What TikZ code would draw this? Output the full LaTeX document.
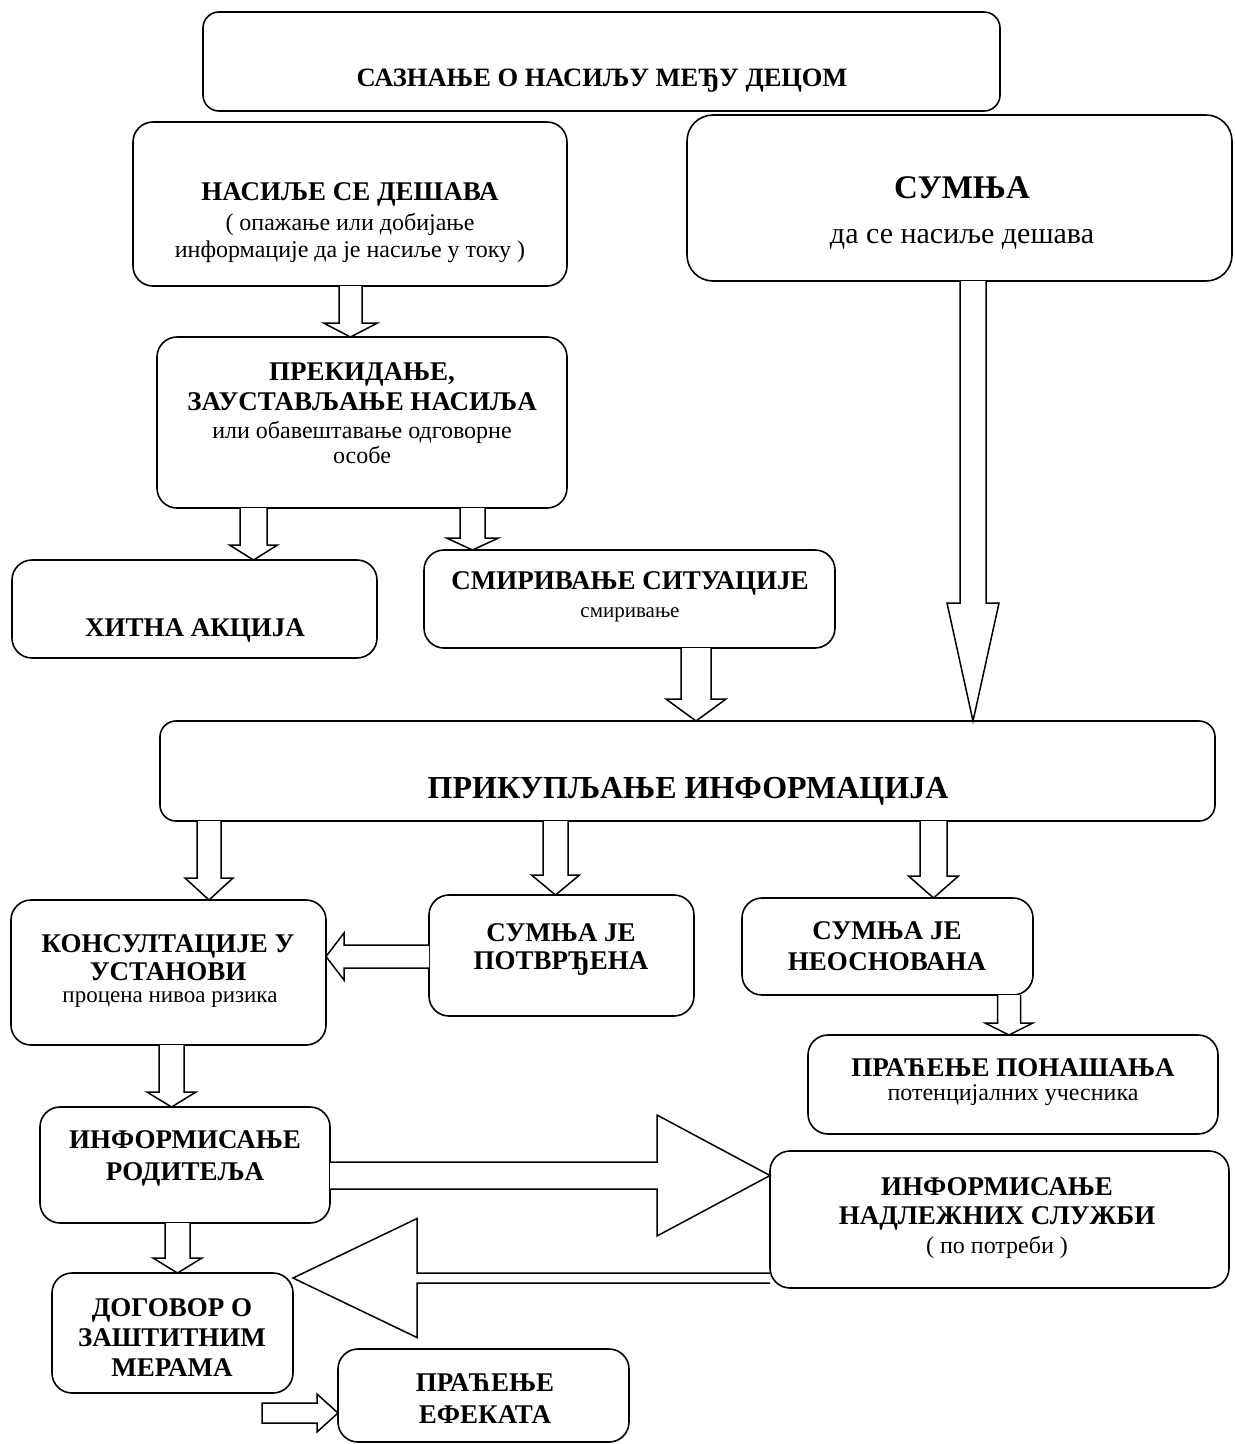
\documentclass[tikz,border=0pt]{standalone}
\usepackage{fontspec}
\setmainfont{Liberation Serif}
\usetikzlibrary{calc}
\tikzset{
  box/.style={draw, line width=1.6pt, rounded corners=20pt, inner sep=0pt, outer sep=0pt},
  blk/.style={draw, line width=1.5pt, line join=miter, fill=white},
  bt/.style={anchor=base, inner sep=0pt, font=\fontsize{27}{30}\selectfont\bfseries},
  rt/.style={anchor=base, inner sep=0pt, font=\fontsize{24}{28}\selectfont},
}
% vertical block arrow: src, dst, x centre, shaft half, head half, head length
\newcommand\darr[6]{%
  \pgfmathsetmacro\xa{#3-#4}\pgfmathsetmacro\xb{#3+#4}%
  \pgfmathsetmacro\xc{#3-#5}\pgfmathsetmacro\xd{#3+#5}%
  \draw[blk] (\xa,0 |- #1.south) -- ($(\xa,0 |- #2.north)+(0,-#6)$)
    -- ($(\xc,0 |- #2.north)+(0,-#6)$) -- (#3,0 |- #2.north)
    -- ($(\xd,0 |- #2.north)+(0,-#6)$) -- ($(\xb,0 |- #2.north)+(0,-#6)$)
    -- (\xb,0 |- #1.south);}
% leftward block arrow: src (its west side), dst (its east side), y centre, shaft half, head half, head length
\newcommand\larr[6]{%
  \pgfmathsetmacro\ya{#3-#4}\pgfmathsetmacro\yb{#3+#4}%
  \pgfmathsetmacro\yc{#3-#5}\pgfmathsetmacro\yd{#3+#5}%
  \draw[blk] (#1.west |- 0,\ya) -- ($(#2.east |- 0,\ya)+(#6,0)$)
    -- ($(#2.east |- 0,\yc)+(#6,0)$) -- (#2.east |- 0,#3)
    -- ($(#2.east |- 0,\yd)+(#6,0)$) -- ($(#2.east |- 0,\yb)+(#6,0)$)
    -- (#1.west |- 0,\yb);}
% rightward block arrow: src (its east side), dst (its west side)
\newcommand\rarr[6]{%
  \pgfmathsetmacro\ya{#3-#4}\pgfmathsetmacro\yb{#3+#4}%
  \pgfmathsetmacro\yc{#3-#5}\pgfmathsetmacro\yd{#3+#5}%
  \draw[blk] (#1.east |- 0,\ya) -- ($(#2.west |- 0,\ya)+(-#6,0)$)
    -- ($(#2.west |- 0,\yc)+(-#6,0)$) -- (#2.west |- 0,#3)
    -- ($(#2.west |- 0,\yd)+(-#6,0)$) -- ($(#2.west |- 0,\yb)+(-#6,0)$)
    -- (#1.east |- 0,\yb);}
\begin{document}
\begin{tikzpicture}[x=1pt,y=-1pt]
\fill[white] (0,0) rectangle (1235,1444);
\useasboundingbox (0,0) rectangle (1235,1444);

% boxes
\node[box, rounded corners=16pt, minimum width=797pt, minimum height=99pt] (top) at (601.5,61.5) {};
\node[box, minimum width=434pt, minimum height=164pt] (nas) at (350,204) {};
\node[box, rounded corners=26pt, minimum width=545pt, minimum height=166pt] (sum) at (959.5,198) {};
\node[box, minimum width=410pt, minimum height=171pt] (prek) at (362,422.5) {};
\node[box, minimum width=365pt, minimum height=98pt] (hit) at (194.5,609) {};
\node[box, minimum width=411pt, minimum height=98pt] (smir) at (629.5,599) {};
\node[box, rounded corners=16pt, minimum width=1055pt, minimum height=100pt] (prik) at (687.5,771) {};
\node[box, minimum width=315pt, minimum height=145pt] (kons) at (168.5,972.5) {};
\node[box, minimum width=265pt, minimum height=121pt] (potv) at (561.5,955.5) {};
\node[box, minimum width=291pt, minimum height=97pt] (neos) at (887.5,946.5) {};
\node[box, minimum width=410pt, minimum height=99pt] (prpon) at (1013,1084.5) {};
\node[box, minimum width=290pt, minimum height=116pt] (inrod) at (185,1165) {};
\node[box, minimum width=459pt, minimum height=137pt] (nadl) at (999.5,1219.5) {};
\node[box, minimum width=241pt, minimum height=120pt] (dog) at (172.5,1333) {};
\node[box, minimum width=291pt, minimum height=93pt] (efek) at (483.5,1395.5) {};

% texts
\node[bt, font=\fontsize{26.5}{30}\selectfont\bfseries] (topT) at (602,86) {САЗНАЊЕ О НАСИЉУ МЕЂУ ДЕЦОМ};
\node[bt] (nasT1) at (350,200) {НАСИЉЕ СЕ ДЕШАВА};
\node[rt] (nasT2) at (350,230) {( опажање или добијање};
\node[rt] (nasT3) at (350,257) {информације да је насиље у току )};
\node[bt, font=\fontsize{33}{36}\selectfont\bfseries] (sumT1) at (962,198) {СУМЊА};
\node[rt, font=\fontsize{30}{34}\selectfont] (sumT2) at (962,243) {да се насиље дешава};
\node[bt] (prekT1) at (362,380) {ПРЕКИДАЊЕ,};
\node[bt] (prekT2) at (362,410) {ЗАУСТАВЉАЊЕ НАСИЉА};
\node[rt] (prekT3) at (362,438) {или обавештавање одговорне};
\node[rt] (prekT4) at (362,463) {особе};
\node[bt] (hitT) at (195,636) {ХИТНА АКЦИЈА};
\node[bt] (smirT1) at (630,589) {СМИРИВАЊЕ СИТУАЦИЈЕ};
\node[rt, font=\fontsize{21}{24}\selectfont] (smirT2) at (630,617) {смиривање};
\node[bt, font=\fontsize{32}{36}\selectfont\bfseries] (prikT) at (688,798) {ПРИКУПЉАЊЕ ИНФОРМАЦИЈА};
\node[bt] (konsT1) at (168,952) {КОНСУЛТАЦИЈЕ У};
\node[bt] (konsT2) at (168,980) {УСТАНОВИ};
\node[rt, font=\fontsize{23}{26}\selectfont] (konsT3) at (170,1002) {процена нивоа ризика};
\node[bt] (potvT1) at (561,941) {СУМЊА ЈЕ};
\node[bt] (potvT2) at (561,969) {ПОТВРЂЕНА};
\node[bt] (neosT1) at (887,939) {СУМЊА ЈЕ};
\node[bt] (neosT2) at (887,970) {НЕОСНОВАНА};
\node[bt] (prponT1) at (1013,1076) {ПРАЋЕЊЕ ПОНАШАЊА};
\node[rt, font=\fontsize{24}{27}\selectfont] (prponT2) at (1013,1100) {потенцијалних учесника};
\node[bt] (inrodT1) at (185,1148) {ИНФОРМИСАЊЕ};
\node[bt] (inrodT2) at (185,1180) {РОДИТЕЉА};
\node[bt] (nadlT1) at (997,1195) {ИНФОРМИСАЊЕ};
\node[bt] (nadlT2) at (997,1224) {НАДЛЕЖНИХ СЛУЖБИ};
\node[rt] (nadlT3) at (997,1253) {( по потреби )};
\node[bt] (dogT1) at (172,1316) {ДОГОВОР О};
\node[bt] (dogT2) at (172,1346) {ЗАШТИТНИМ};
\node[bt] (dogT3) at (172,1376) {МЕРАМА};
\node[bt] (efekT1) at (485,1391) {ПРАЋЕЊЕ};
\node[bt] (efekT2) at (485,1423) {ЕФЕКАТА};

% block arrows
\darr{nas}{prek}{350.5}{11.5}{27}{14}
\darr{prek}{hit}{253.5}{13.5}{24}{15}
\darr{prek}{smir}{472.5}{12.5}{26}{12}
\darr{smir}{prik}{696}{15}{30}{22}
\darr{sum}{prik}{973}{13}{26}{118}
\darr{prik}{kons}{209}{12}{24}{22}
\darr{prik}{potv}{555.5}{12.5}{24}{20}
\darr{prik}{neos}{933.5}{13.5}{25}{22}
\larr{potv}{kons}{956.5}{11.5}{23.5}{18}
\darr{neos}{prpon}{1009}{11.5}{24}{12}
\darr{kons}{inrod}{171.5}{12.5}{24.5}{15}
\rarr{inrod}{nadl}{1175.5}{13.5}{60.5}{113}
\larr{nadl}{dog}{1278}{5}{59.5}{124}
\darr{inrod}{dog}{177.5}{12.5}{24.5}{15}
\coordinate (efekSrc) at (262,1413);
\draw[blk] (efekSrc) ++(0,-10) -- ($(efek.west |- 0,1403)+(-21,0)$) -- ($(efek.west |- 0,1394)+(-21,0)$)
  -- (efek.west |- 0,1413) -- ($(efek.west |- 0,1432)+(-21,0)$) -- ($(efek.west |- 0,1423)+(-21,0)$)
  -- ($(efekSrc)+(0,10)$) -- cycle;
\end{tikzpicture}
\end{document}
